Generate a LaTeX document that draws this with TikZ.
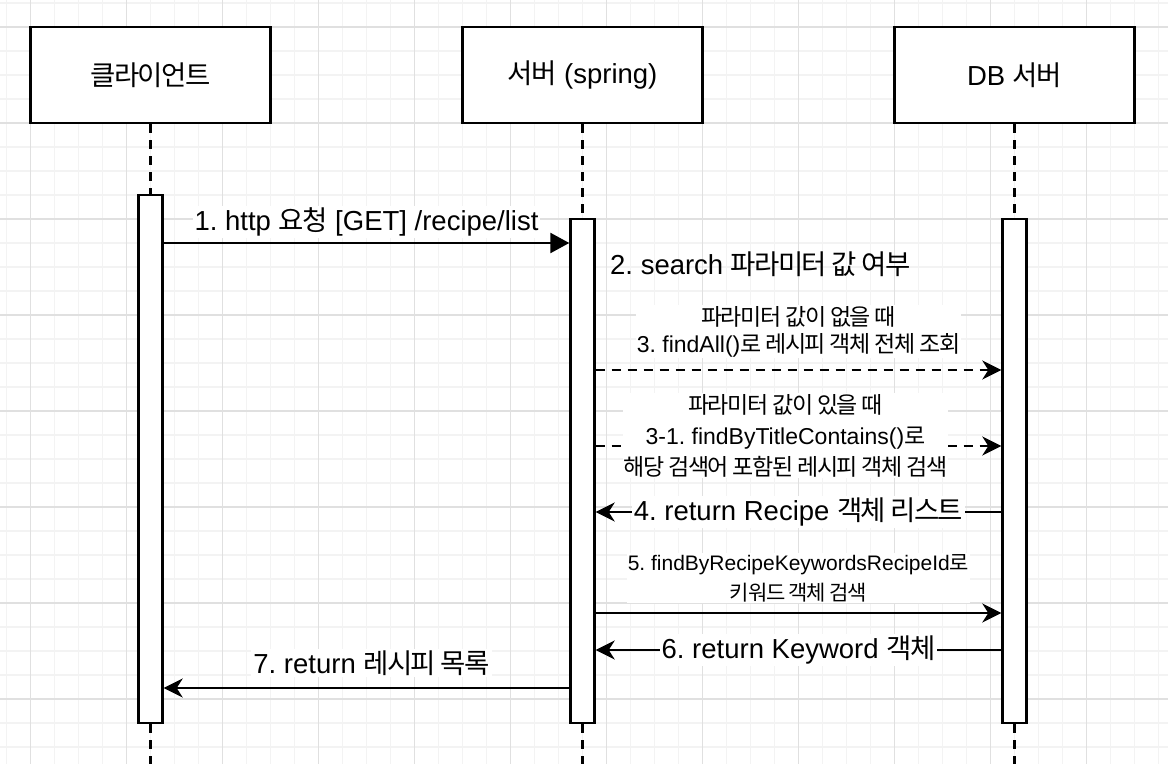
\documentclass[tikz,border=0pt]{standalone}
\usepackage{fontspec}
\setmainfont{Liberation Sans}
\newfontfamily\krfont[Scale=1.0, LetterSpace=-6]{Noto Sans CJK KR}
\newcommand{\kr}[1]{{\krfont #1}}
\usetikzlibrary{arrows.meta}
\definecolor{gridminor}{RGB}{243,243,243}
\definecolor{gridmajor}{RGB}{224,224,224}
\frenchspacing

\begin{document}
\begin{tikzpicture}[x = 1pt, y = -1pt,
    every node/.style = {font = \fontsize{27.5}{33}\selectfont, inner sep = 2pt},
    actor/.style = {draw, line width = 2.4pt, fill = white, minimum width = 240pt, minimum height = 96pt},
    bar/.style = {draw, line width = 2.4pt, fill = white, minimum width = 24pt},
    life/.style = {line width = 2.4pt, dash pattern = on 9pt off 7pt},
    call/.style = {line width = 2.4pt, -{Triangle[length = 19pt, width = 20pt]}},
    msg/.style = {line width = 2.4pt, -{Stealth[length = 19pt, width = 19pt, inset = 6pt]}},
    query/.style = {msg, dash pattern = on 9pt off 7pt},
    note/.style = {fill = white, align = center, inner sep = 1pt, font = \fontsize{23}{27}\selectfont}]
    \fill[white] (0,0) rectangle (1168,764);
    \useasboundingbox (0,0) rectangle (1168,764);
    \foreach \gx in {0,...,48} \draw[gridminor, line width = 1.2pt] (6.5+24*\gx, 0) -- (6.5+24*\gx, 764);
    \foreach \gy in {0,...,31} \draw[gridminor, line width = 1.2pt] (0, 3+24*\gy) -- (1168, 3+24*\gy);
    \foreach \gx in {0,...,11} \draw[gridmajor, line width = 1.2pt] (30.5+96*\gx, 0) -- (30.5+96*\gx, 764);
    \foreach \gy in {0,...,7} \draw[gridmajor, line width = 1.2pt] (0, 27+96*\gy) -- (1168, 27+96*\gy);

    \node[actor] (client) at (150.5, 75) {\kr{클라이언트}};
    \node[actor] (server) at (582.5, 75) {\kr{서버} (spring)};
    \node[actor] (db) at (1014.5, 75) {DB \kr{서버}};
    \coordinate (clientend) at (150.5, 764);
    \coordinate (serverend) at (582.5, 764);
    \coordinate (dbend) at (1014.5, 764);
    \node[bar, minimum height = 528pt] (clientbar) at (150.5, 459) {};
    \node[bar, minimum height = 504pt] (serverbar) at (582.5, 471) {};
    \node[bar, minimum height = 504pt] (dbbar) at (1014.5, 471) {};
    \draw[life] (client) -- (clientbar) (clientbar) -- (clientend);
    \draw[life] (server) -- (serverbar) (serverbar) -- (serverend);
    \draw[life] (db) -- (dbbar) (dbbar) -- (dbend);

    \draw[call] (clientbar.east |- 0,243) -- node[fill = white, yshift = 21pt] (m1) {1. http \kr{요청} [GET] /recipe/list} (serverbar.west |- 0,243);
    \node[anchor = west] (m2) at (608, 264) {2. search \kr{파라미터 값 여부}};
    \draw[query] (serverbar.east |- 0,370) -- node[note, yshift = 38.5pt] (m3) {\kr{파라미터 값이 없을 때}\\3. findAll()\kr{로 레시피 객체 전체 조회}} (dbbar.west |- 0,370);
    \draw[query] (serverbar.east |- 0,446) -- node[note, xshift = -13pt, yshift = 10.5pt, font = \fontsize{23}{31}\selectfont] (m31) {\kr{파라미터 값이 있을 때}\\3-1. findByTitleContains()\kr{로}\\\kr{해당 검색어 포함된 레시피 객체 검색}} (dbbar.west |- 0,446);
    \draw[msg] (dbbar.west |- 0,512) -- node[fill = white] (m4) {4. return Recipe \kr{객체 리스트}} (serverbar.east |- 0,512);
    \draw[msg] (serverbar.east |- 0,613) -- node[note, yshift = 35pt, font = \fontsize{21}{30}\selectfont] (m5) {5. findByRecipeKeywordsRecipeId\kr{로}\\\kr{키워드 객체 검색}} (dbbar.west |- 0,613);
    \draw[msg] (dbbar.west |- 0,650) -- node[fill = white] (m6) {6. return Keyword \kr{객체}} (serverbar.east |- 0,650);
    \draw[msg] (serverbar.west |- 0,688) -- node[fill = white, xshift = 5pt, yshift = 25pt] (m7) {7. return \kr{레시피 목록}} (clientbar.east |- 0,688);
\end{tikzpicture}
\end{document}
